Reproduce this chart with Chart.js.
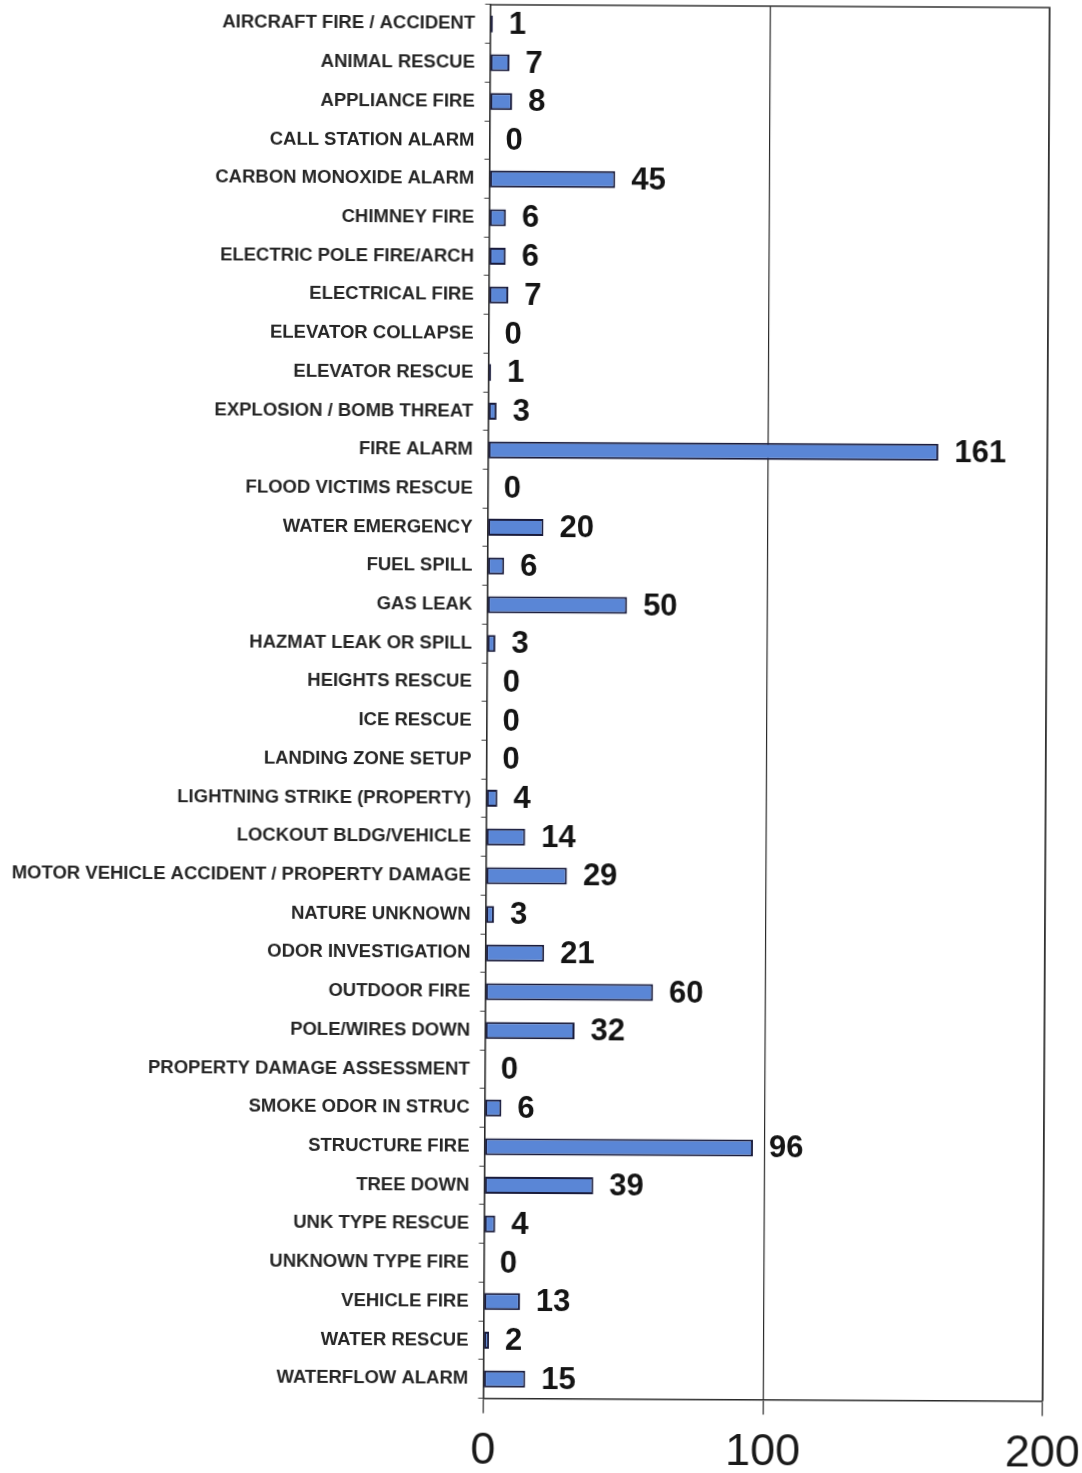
<!DOCTYPE html>
<html>
<head>
<meta charset="utf-8">
<script src="https://cdn.jsdelivr.net/npm/chart.js@4.4.1/dist/chart.umd.min.js"></script>
<style>
  html, body { margin: 0; padding: 0; background: #fff; overflow: hidden; }
  #myChart { display: block; transform: rotate(0.29deg); }
</style>
</head>
<body>
<canvas id="myChart" width="1082" height="1473"></canvas>
<script>
let labels = ['AIRCRAFT FIRE / ACCIDENT', 'ANIMAL RESCUE', 'APPLIANCE FIRE', 'CALL STATION ALARM',
  'CARBON MONOXIDE ALARM', 'CHIMNEY FIRE', 'ELECTRIC POLE FIRE/ARCH', 'ELECTRICAL FIRE',
  'ELEVATOR COLLAPSE', 'ELEVATOR RESCUE', 'EXPLOSION / BOMB THREAT', 'FIRE ALARM',
  'FLOOD VICTIMS RESCUE', 'WATER EMERGENCY', 'FUEL SPILL', 'GAS LEAK', 'HAZMAT LEAK OR SPILL',
  'HEIGHTS RESCUE', 'ICE RESCUE', 'LANDING ZONE SETUP', 'LIGHTNING STRIKE (PROPERTY)',
  'LOCKOUT BLDG/VEHICLE', 'MOTOR VEHICLE ACCIDENT / PROPERTY DAMAGE', 'NATURE UNKNOWN',
  'ODOR INVESTIGATION', 'OUTDOOR FIRE', 'POLE/WIRES DOWN', 'PROPERTY DAMAGE ASSESSMENT',
  'SMOKE ODOR IN STRUC', 'STRUCTURE FIRE', 'TREE DOWN', 'UNK TYPE RESCUE', 'UNKNOWN TYPE FIRE',
  'VEHICLE FIRE', 'WATER RESCUE', 'WATERFLOW ALARM'];
let counts = [1, 7, 8, 0, 45, 6, 6, 7, 0, 1, 3, 161, 0, 20, 6, 50, 3, 0, 0, 0, 4, 14, 29, 3,
  21, 60, 32, 0, 6, 96, 39, 4, 0, 13, 2, 15];
let xTicks = [0, 100, 200];

let fontFamily = "'Liberation Sans', Arial, sans-serif";

// value labels to the right of each bar
let valueLabels = {
  id: 'valueLabels',
  afterDatasetsDraw(chart) {
    let ctx = chart.ctx;
    let meta = chart.getDatasetMeta(0);
    ctx.save();
    ctx.font = 'bold 31px ' + fontFamily;
    ctx.fillStyle = '#141414';
    ctx.textAlign = 'left';
    ctx.textBaseline = 'middle';
    meta.data.forEach((bar, i) => {
      ctx.fillText(String(counts[i]), bar.x + 16, bar.y + 1);
    });
    ctx.restore();
  }
};

// top and right edge of the plot frame
let plotFrame = {
  id: 'plotFrame',
  afterDraw(chart) {
    let a = chart.chartArea;
    let ctx = chart.ctx;
    ctx.save();
    ctx.strokeStyle = '#333';
    ctx.lineWidth = 1.5;
    ctx.beginPath();
    ctx.moveTo(a.left, a.top);
    ctx.lineTo(a.right, a.top);
    ctx.lineTo(a.right, a.bottom);
    ctx.stroke();
    ctx.restore();
  }
};

let ctx = document.getElementById('myChart').getContext('2d');
let myChart = new Chart(ctx, {
  type: 'bar',
  data: {
    labels: labels,
    datasets: [{
      data: counts,
      backgroundColor: '#5a86d6',
      borderColor: '#1a1c3c',
      borderWidth: 2,
      borderSkipped: false,
      categoryPercentage: 1,
      barPercentage: 0.44
    }]
  },
  options: {
    indexAxis: 'y',
    responsive: false,
    animation: false,
    layout: { padding: { top: 5, right: 36, left: 0, bottom: 0 } },
    plugins: {
      legend: { display: false },
      tooltip: { enabled: false }
    },
    scales: {
      x: {
        min: 0,
        max: 200,
        afterBuildTicks: (scale) => {
          scale.ticks = xTicks.map(v => ({ value: v }));
        },
        afterFit: (scale) => {
          scale.height = 74.5;
          scale.paddingLeft = 0;
          scale.paddingRight = 0;
        },
        grid: {
          color: '#2a2a2a',
          lineWidth: 1.2,
          tickLength: 15,
          drawOnChartArea: true
        },
        border: { display: true, color: '#2a2a2a', width: 1.5 },
        ticks: {
          color: '#1a1a1a',
          font: { family: fontFamily, size: 45 },
          padding: 11,
          maxRotation: 0
        }
      },
      y: {
        afterFit: (scale) => {
          scale.width = 486.5;
          scale.paddingTop = 0;
          scale.paddingBottom = 0;
        },
        grid: {
          drawOnChartArea: false,
          offset: true,
          tickLength: 5,
          color: '#444'
        },
        border: { display: true, color: '#2a2a2a', width: 1.5 },
        ticks: {
          color: '#262626',
          font: { family: fontFamily, size: 18.5, weight: 'bold' },
          padding: 10,
          autoSkip: false
        }
      }
    }
  },
  plugins: [valueLabels, plotFrame]
});
</script>
</body>
</html>
